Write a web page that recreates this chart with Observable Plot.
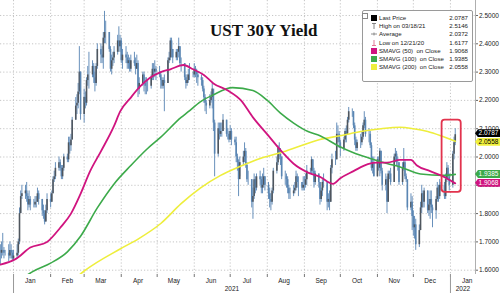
<!DOCTYPE html>
<html><head><meta charset="utf-8">
<script src="https://cdn.jsdelivr.net/npm/d3@7"></script>
<script src="https://cdn.jsdelivr.net/npm/@observablehq/plot@0.6"></script>
<style>
html,body{margin:0;padding:0;background:#fff;}
#wrap{position:relative;width:500px;height:293px;overflow:hidden;font-family:"Liberation Sans",Arial,sans-serif;}
#title{position:absolute;left:210px;top:22px;font:bold 17px/17px "Liberation Serif","Times New Roman",serif;color:#111;white-space:nowrap;}
#legend{position:absolute;left:362px;top:10px;width:111px;height:72px;box-sizing:border-box;border:1px solid #9a9a9a;border-radius:2px;background:#fff;font-size:6.1px;color:#222;}
.row{position:absolute;left:0;width:109px;height:8px;line-height:8px;white-space:pre;}
.lab{position:absolute;left:16px;}
.val{position:absolute;right:4px;}
.ico{position:absolute;left:8px;top:1px;width:6px;height:6px;}
.tag{position:absolute;left:475px;width:25px;height:8px;line-height:8px;font-size:6.5px;text-align:center;clip-path:polygon(3px 0,100% 0,100% 100%,3px 100%,0 50%);padding-left:2px;box-sizing:border-box;}
</style></head><body>
<div id="wrap"></div>
<script>
// ---- data ----
const firstDay = "2020-12-21";
const lastDay = "2022-01-05";
const closes = [
 1.66,1.67,1.67,1.66,1.66,1.65,1.67,1.66,1.64,
 1.65,1.66,1.70,1.80,1.86,1.87,1.88,1.86,1.83,1.85,1.83,1.83,1.84,1.84,1.87,1.85,1.81,1.80,1.77,1.81,1.85,
 1.84,1.87,1.92,1.93,1.96,1.98,1.96,1.93,1.96,2.00,1.99,2.05,2.04,2.06,2.13,2.18,2.19,2.23,2.30,2.15,
 2.21,2.19,2.27,2.29,2.29,2.32,2.28,2.26,2.32,2.38,2.36,2.35,2.42,2.44,2.44,2.38,2.31,2.34,2.35,2.37,2.41,2.39,2.41,
 2.34,2.36,2.35,2.33,2.34,2.31,2.34,2.33,2.31,2.33,2.24,2.26,2.29,2.26,2.25,2.25,2.25,2.28,2.31,2.30,2.31,2.30,
 2.29,2.27,2.25,2.27,2.26,2.34,2.35,2.41,2.38,2.35,2.37,2.37,2.39,2.33,2.33,2.28,2.26,2.27,2.29,2.29,2.29,
 2.31,2.30,2.29,2.28,2.27,2.24,2.21,2.19,2.18,2.20,2.21,2.24,2.12,2.01,2.10,2.08,2.09,2.09,2.13,2.08,2.08,2.06,
 2.09,2.06,2.05,2.00,1.98,1.92,1.98,2.00,2.02,1.97,1.92,1.92,1.84,1.86,1.92,1.89,1.93,1.92,1.89,1.90,1.93,1.90,
 1.87,1.85,1.84,1.88,1.95,1.98,2.03,2.01,2.00,1.93,1.93,1.92,1.89,1.87,1.87,1.88,1.89,1.93,1.91,1.91,1.89,1.90,
 1.90,1.92,1.95,1.95,1.99,1.95,1.91,1.94,1.91,1.85,1.88,1.91,1.91,1.84,1.85,1.84,1.96,1.99,1.99,2.08,2.08,2.05,
 2.03,2.06,2.09,2.08,2.13,2.16,2.16,2.11,2.06,2.03,2.05,2.05,2.07,2.11,2.13,2.08,2.08,2.04,1.96,1.98,1.93,
 1.99,1.96,2.02,1.95,1.90,1.92,1.84,1.94,1.94,1.91,2.00,2.01,1.98,1.98,1.91,1.96,1.98,1.93,1.92,1.82,1.84,1.79,
 1.75,1.76,1.69,1.74,1.82,1.87,1.84,1.88,1.81,1.83,1.85,1.82,1.81,1.85,1.89,1.86,1.90,1.90,1.86,1.92,1.96,1.93,1.90,
 2.01,2.05,2.0787
];
const highs = [
 1.69,1.70,1.73,1.68,1.67,1.69,1.70,1.69,1.67,
 1.67,1.69,1.71,1.82,1.88,1.90,1.90,1.91,1.87,1.88,1.86,1.85,1.86,1.86,1.89,1.88,1.85,1.83,1.81,1.83,1.87,
 1.87,1.88,1.93,1.95,1.98,2.00,1.99,1.97,1.97,2.01,2.01,2.07,2.07,2.08,2.14,2.21,2.22,2.26,2.39,2.30,
 2.24,2.23,2.28,2.32,2.37,2.34,2.33,2.30,2.33,2.40,2.40,2.39,2.44,2.5146,2.48,2.44,2.39,2.36,2.37,2.39,2.43,2.46,2.43,
 2.42,2.38,2.39,2.37,2.36,2.35,2.36,2.37,2.35,2.36,2.34,2.28,2.30,2.30,2.28,2.28,2.27,2.29,2.33,2.33,2.34,2.32,
 2.32,2.30,2.28,2.28,2.29,2.35,2.37,2.42,2.42,2.38,2.38,2.38,2.42,2.39,2.35,2.33,2.29,2.29,2.31,2.33,2.30,
 2.33,2.32,2.31,2.30,2.29,2.28,2.25,2.22,2.20,2.22,2.23,2.26,2.23,2.13,2.12,2.12,2.12,2.12,2.15,2.13,2.10,2.09,
 2.11,2.10,2.07,2.07,2.01,1.99,2.00,2.02,2.05,2.03,1.98,1.95,1.92,1.89,1.94,1.93,1.94,1.95,1.93,1.94,1.96,1.93,
 1.91,1.89,1.87,1.89,1.96,2.00,2.04,2.05,2.03,2.00,1.95,1.94,1.93,1.90,1.89,1.90,1.91,1.95,1.94,1.93,1.91,1.93,
 1.93,1.94,1.97,1.96,2.00,1.99,1.96,1.95,1.94,1.91,1.89,1.92,1.94,1.90,1.87,1.88,1.97,2.01,2.02,2.12,2.11,2.09,
 2.06,2.07,2.10,2.11,2.14,2.175,2.17,2.16,2.12,2.07,2.06,2.08,2.09,2.12,2.16,2.14,2.10,2.09,2.05,2.00,2.00,
 2.00,2.00,2.03,2.02,1.96,1.94,1.93,1.95,1.95,1.96,2.01,2.03,2.02,2.00,1.98,1.98,2.03,1.99,1.94,1.90,1.87,1.86,
 1.81,1.79,1.78,1.76,1.84,1.90,1.88,1.89,1.88,1.85,1.88,1.88,1.83,1.86,1.91,1.90,1.92,1.91,1.91,1.94,1.98,1.97,1.94,
 2.02,2.07,2.10
];
const lows = [
 1.6177,1.64,1.65,1.64,1.65,1.63,1.64,1.64,1.63,
 1.63,1.64,1.65,1.69,1.80,1.85,1.85,1.84,1.81,1.82,1.81,1.82,1.82,1.82,1.84,1.83,1.79,1.78,1.76,1.77,1.80,
 1.82,1.84,1.87,1.91,1.92,1.95,1.95,1.92,1.92,1.95,1.98,1.98,2.01,2.02,2.06,2.13,2.15,2.17,2.22,2.13,
 2.12,2.17,2.18,2.25,2.24,2.28,2.26,2.23,2.25,2.31,2.33,2.33,2.31,2.40,2.40,2.37,2.30,2.29,2.32,2.33,2.36,2.37,2.37,
 2.33,2.31,2.33,2.31,2.31,2.30,2.30,2.32,2.29,2.31,2.21,2.22,2.25,2.23,2.22,2.22,2.23,2.24,2.27,2.27,2.28,2.27,
 2.28,2.24,2.24,2.24,2.16,2.26,2.33,2.34,2.35,2.33,2.34,2.34,2.35,2.32,2.30,2.27,2.24,2.25,2.26,2.27,2.28,
 2.28,2.28,2.26,2.25,2.25,2.23,2.19,2.16,2.15,2.17,2.19,2.17,2.09,1.93,2.00,2.06,2.07,2.07,2.09,2.07,2.06,2.05,
 2.06,2.04,2.04,1.98,1.95,1.86,1.93,1.97,1.98,1.96,1.91,1.90,1.82,1.78,1.85,1.87,1.88,1.90,1.87,1.87,1.89,1.88,
 1.85,1.82,1.81,1.83,1.87,1.94,1.97,1.99,1.97,1.92,1.90,1.89,1.87,1.85,1.85,1.86,1.87,1.88,1.89,1.86,1.88,1.88,
 1.88,1.89,1.90,1.94,1.94,1.94,1.89,1.90,1.89,1.83,1.84,1.86,1.89,1.81,1.82,1.81,1.84,1.94,1.97,1.99,2.05,2.03,
 2.00,2.02,2.05,2.05,2.08,2.12,2.14,2.10,2.04,2.02,2.02,2.03,2.04,2.06,2.10,2.07,2.05,2.03,1.95,1.94,1.93,
 1.93,1.95,1.93,1.94,1.88,1.88,1.80,1.84,1.92,1.90,1.91,1.98,1.97,1.95,1.90,1.90,1.95,1.92,1.91,1.81,1.81,1.74,
 1.72,1.71,1.67,1.68,1.74,1.80,1.82,1.82,1.80,1.79,1.78,1.80,1.75,1.78,1.84,1.84,1.85,1.88,1.85,1.85,1.91,1.92,1.88,
 1.89,1.99,2.04
];
// moving averages
const ma50Dates = ["2020-12-21","2021-01-03","2021-01-15","2021-01-29","2021-02-09","2021-02-18","2021-02-26","2021-03-06","2021-03-15","2021-03-26","2021-03-31","2021-04-09","2021-04-17","2021-04-25","2021-05-04","2021-05-12","2021-05-23","2021-05-31","2021-06-09","2021-06-17","2021-06-29","2021-07-10","2021-07-20","2021-08-01","2021-08-14","2021-08-23","2021-09-04","2021-09-14","2021-09-25","2021-10-01","2021-10-12","2021-10-24","2021-11-01","2021-11-09","2021-11-20","2021-11-29","2021-12-04","2021-12-15","2021-12-24","2022-01-05"];
const ma50 = [1.62,1.64,1.68,1.70,1.75,1.80,1.87,1.95,2.02,2.11,2.16,2.21,2.25,2.28,2.30,2.31,2.325,2.31,2.29,2.26,2.235,2.20,2.14,2.08,2.015,1.976,1.945,1.93,1.905,1.925,1.95,1.975,1.98,1.98,1.99,1.99,1.97,1.95,1.935,1.9068];
const ma100Dates = ["2021-01-08","2021-01-17","2021-02-01","2021-02-15","2021-02-26","2021-03-12","2021-03-26","2021-04-09","2021-04-23","2021-05-04","2021-05-21","2021-05-27","2021-06-06","2021-06-17","2021-07-03","2021-07-20","2021-08-01","2021-08-12","2021-08-23","2021-09-04","2021-09-14","2021-09-29","2021-10-12","2021-10-26","2021-11-09","2021-11-20","2021-12-07","2021-12-26","2022-01-05"];
const ma100 = [1.57,1.595,1.625,1.665,1.72,1.82,1.905,1.97,2.03,2.07,2.14,2.16,2.195,2.22,2.245,2.235,2.20,2.155,2.12,2.09,2.075,2.04,2.015,1.995,1.977,1.965,1.94,1.935,1.9385];
const ma200Dates = ["2021-02-24","2021-03-02","2021-03-31","2021-04-15","2021-05-04","2021-05-21","2021-06-06","2021-06-23","2021-07-10","2021-07-26","2021-08-12","2021-08-29","2021-09-14","2021-10-01","2021-10-18","2021-11-04","2021-11-20","2021-12-01","2021-12-13","2021-12-24","2022-01-05"];
const ma200 = [1.58,1.60,1.675,1.71,1.765,1.835,1.89,1.935,1.968,1.995,2.015,2.04,2.062,2.075,2.09,2.10,2.105,2.10,2.09,2.075,2.0558];
const yTicks = [1.6,1.7,1.8,1.9,2.0,2.1,2.2,2.3,2.4,2.5];
const monthLabels = ["Jan","Feb","Mar","Apr","May","Jun","Jul","Aug","Sep","Oct","Nov","Dec"];
const yearLabels = ["2021","2022"];
const legendLabels = ["Last Price","High on 03/18/21","Average","Low on 12/21/20","SMAVG (50)  on Close","SMAVG (100)  on Close","SMAVG (200)  on Close"];
const legendValues = ["2.0787","2.5146","2.0372","1.6177","1.9068","1.9385","2.0558"];
const tagValues = [2.0787, 2.0558, 1.9385, 1.9068];
const tagLabels = ["2.0787","2.0558","1.9385","1.9068"];
const highlight = {from: "2021-12-25", to: "2022-01-10", lo: 1.875, hi: 2.13};

// ---- styling ----
const C50 = "#d0147f", C100 = "#3caa4a", C200 = "#eeee3c";
const legendIcons = ["#000", "high", "avg", "low", C50, C100, C200];
const tagBg = ["#000", "#f0f03c", "#3caa4a", C50];
const tagFg = ["#fff", "#000", "#fff", "#fff"];

const U = s => new Date(s + "T00:00:00Z");
const days = d3.utcDays(U(firstDay), d3.utcDay.offset(U(lastDay), 1)).filter(d => d.getUTCDay() % 6 !== 0);
const n = Math.min(days.length, closes.length, highs.length, lows.length);
const candles = d3.range(n).map(i => ({date: days[i], open: i ? closes[i-1] : closes[0], close: closes[i], high: highs[i], low: lows[i]}));
const toPts = (ds, vs) => ds.map((d, i) => ({date: U(d), v: vs[i]}));
const p50 = toPts(ma50Dates, ma50), p100 = toPts(ma100Dates, ma100), p200 = toPts(ma200Dates, ma200);

const xStart = new Date(Date.UTC(2020, 11, 21, 3));
const xEnd = new Date(Date.UTC(2022, 0, 21, 22));
const monthStarts = d3.utcMonths(U("2021-01-01"), U("2022-01-02"));
const midMonths = monthStarts.map(d => d3.utcDay.offset(d, 14));
const yearStarts = [U("2021-01-01"), U("2022-01-01")];
const yearMids = [new Date((+yearStarts[0] + +yearStarts[1]) / 2), new Date((+yearStarts[1] + +xEnd) / 2)];
const grid = {stroke: "#b8b8b8", strokeOpacity: 1, strokeDasharray: "1.2,2", strokeWidth: 0.8};

const chart = Plot.plot({
  width: 500, height: 293,
  marginLeft: 0, marginRight: 25, marginTop: 0, marginBottom: 19,
  x: {type: "utc", domain: [xStart, xEnd], label: null},
  y: {domain: [1.5848, 2.553], label: null},
  style: {fontFamily: "'Liberation Sans', Arial, sans-serif", fontSize: "6.5px", color: "#222", background: "transparent", overflow: "visible"},
  marks: [
    Plot.gridY({ticks: yTicks, ...grid}),
    Plot.gridX({ticks: monthStarts, ...grid}),
    Plot.ruleX([xEnd], {stroke: "#9a9a9a", strokeWidth: 0.8}),
    Plot.axisY({anchor: "right", ticks: yTicks, tickFormat: d3.format(".4f"), tickSize: 2, tickPadding: 1.5, stroke: "#666"}),
    Plot.axisX({ticks: midMonths, tickFormat: d => monthLabels[d.getUTCMonth()], tickSize: 0, tickPadding: 4}),
    Plot.axisX({ticks: monthStarts, tickFormat: () => "", tickSize: 3, stroke: "#777"}),
    Plot.axisX({ticks: yearStarts, tickFormat: () => "", tickSize: 19, stroke: "#999"}),
    Plot.axisX({ticks: yearMids, tickFormat: d => yearLabels[yearMids.findIndex(m => +m === +d)], tickSize: 0, tickPadding: 11.5}),
    Plot.ruleX(candles, {x: "date", y1: "low", y2: "high", stroke: "#6890bb", strokeWidth: 1}),
    Plot.ruleX(candles, {x: "date", y1: "open", y2: "close", stroke: d => d.close >= d.open ? "#4f565e" : "#5a86b3", strokeWidth: 1.6}),
    Plot.line(p200, {x: "date", y: "v", stroke: C200, strokeWidth: 1.6, curve: "monotone-x", clip: true}),
    Plot.line(p100, {x: "date", y: "v", stroke: C100, strokeWidth: 1.6, curve: "monotone-x", clip: true}),
    Plot.line(p50, {x: "date", y: "v", stroke: C50, strokeWidth: 1.8, curve: "monotone-x", clip: true}),
    Plot.rect([highlight], {x1: d => U(d.from), x2: d => U(d.to), y1: "lo", y2: "hi", fill: "none", stroke: "#e2334d", strokeWidth: 1.8, rx: 3})
  ]
});

const wrap = document.getElementById("wrap");
wrap.appendChild(chart);

// title
const t = document.createElement("div");
t.id = "title"; t.textContent = "UST 30Y Yield";
wrap.appendChild(t);

// legend
const lg = document.createElement("div");
lg.id = "legend";
const iconSvg = k => {
  if (k === "high") return '<svg class="ico" viewBox="0 0 6 6"><path d="M1 0.5H5M3 0.5V6" stroke="#777" stroke-width="0.9" fill="none"/></svg>';
  if (k === "avg") return '<svg class="ico" viewBox="0 0 6 6"><path d="M0 3H6M3 1.5V4.5" stroke="#777" stroke-width="0.8" fill="none"/></svg>';
  if (k === "low") return '<svg class="ico" viewBox="0 0 6 6"><path d="M3 0V5.5M1 5.5H5" stroke="#e06a8a" stroke-width="0.9" fill="none"/></svg>';
  return '<div class="ico" style="background:' + k + '"></div>';
};
let html = '<div style="position:absolute;left:-1px;top:2px;width:4px;height:4px;border:0.8px solid #888;background:#fff"></div>';
legendLabels.forEach((l, i) => {
  html += '<div class="row" style="top:' + (3 + i * 8.2).toFixed(1) + 'px">' + iconSvg(legendIcons[i]) +
    '<span class="lab">' + l + '</span><span class="val">' + legendValues[i] + '</span></div>';
});
lg.innerHTML = html;
wrap.appendChild(lg);

// right-side value tags, positioned with the chart's y scale
const ys = chart.scale("y");
const tagShift = [-1, 1, 0, 0];
tagValues.forEach((v, i) => {
  const d = document.createElement("div");
  d.className = "tag";
  d.style.top = (ys.apply(v) - 4 + tagShift[i]) + "px";
  d.style.background = tagBg[i];
  d.style.color = tagFg[i];
  d.textContent = tagLabels[i];
  wrap.appendChild(d);
});
</script>
</body></html>
